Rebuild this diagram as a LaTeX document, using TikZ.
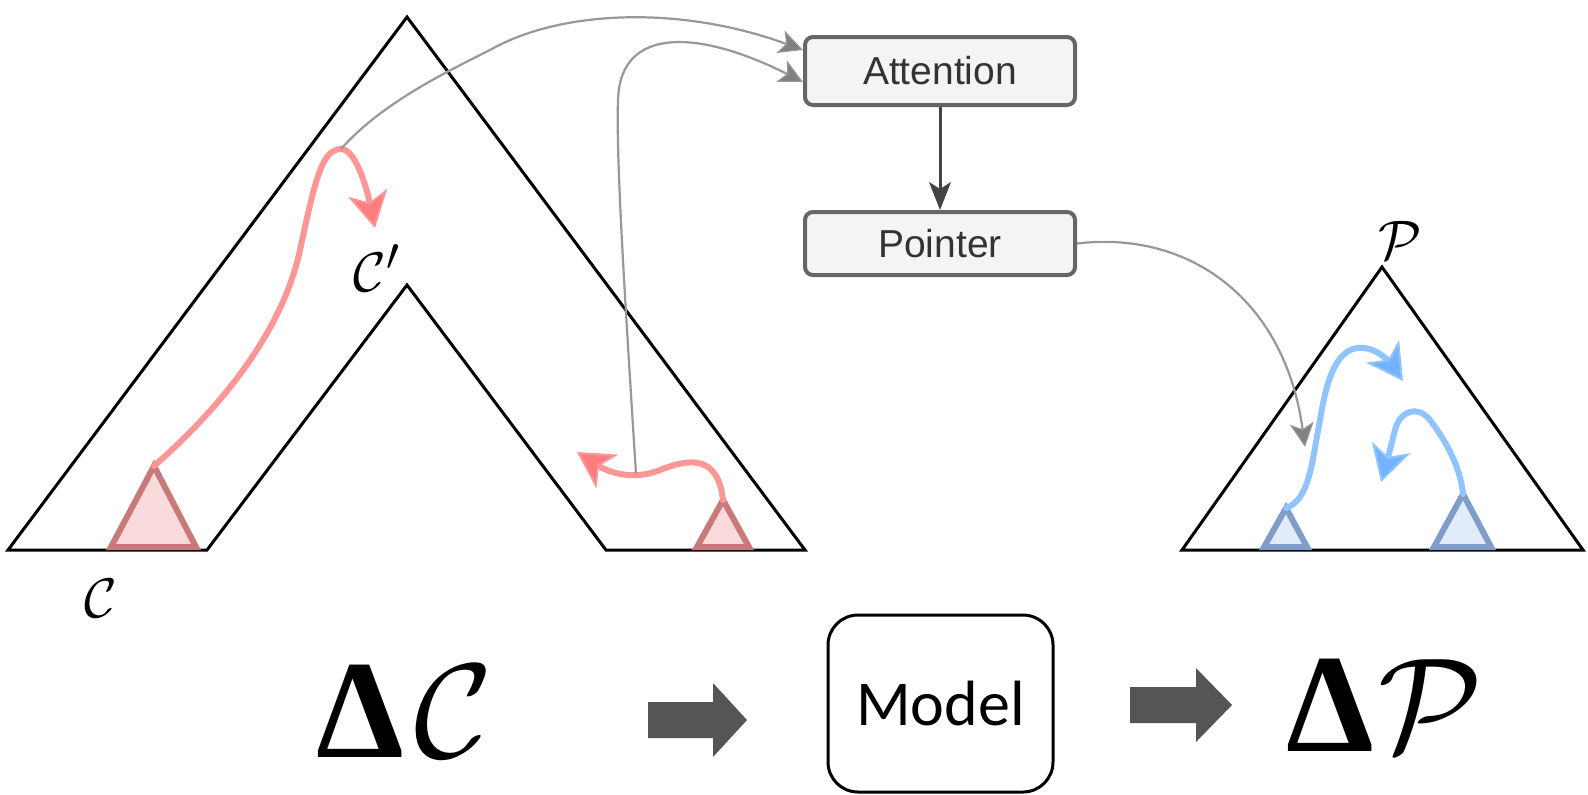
\documentclass[tikz,border=0pt]{standalone}
\usepackage{graphicx}
\usepackage{fontspec}
\newfontfamily\arialf{Liberation Sans}
\newfontfamily\calibf{Carlito}
\newfontfamily\timesf{Liberation Serif}
\usetikzlibrary{arrows.meta,calc}
\definecolor{pinkln}{RGB}{255,150,150}
\definecolor{pinkhd}{RGB}{255,125,125}
\definecolor{pinkst}{RGB}{200,122,122}
\definecolor{pinkfl}{RGB}{248,218,218}
\definecolor{blueln}{RGB}{145,195,255}
\definecolor{bluehd}{RGB}{115,178,255}
\definecolor{bluest}{RGB}{128,156,200}
\definecolor{bluefl}{RGB}{225,235,250}
\definecolor{grayln}{RGB}{152,152,152}
\definecolor{grayhd}{RGB}{128,128,128}
\definecolor{boxst}{RGB}{102,102,102}
\definecolor{boxfl}{RGB}{244,244,244}
\definecolor{boxtx}{RGB}{51,51,51}
\definecolor{blkarr}{RGB}{85,85,85}
\definecolor{darkln}{RGB}{68,68,68}
\newcommand{\bigdelta}{{\timesf\bfseries\fontsize{70}{72}\selectfont Δ}}
\begin{document}
\begin{tikzpicture}[x=0.5pt,y=-0.5pt,
  tree/.style={line width=1.5pt, draw=black, line join=miter},
  pinktri/.style={line width=3pt, draw=pinkst, fill=pinkfl, line join=miter},
  bluetri/.style={line width=3pt, draw=bluest, fill=bluefl, line join=miter},
  pinkarr/.style={line width=3pt, draw=pinkln, line cap=round,
    -{Stealth[length=18pt,width=20pt,inset=5pt,line width=1pt,fill=pinkhd]}},
  bluearr/.style={line width=3pt, draw=blueln, line cap=round,
    -{Stealth[length=18pt,width=20pt,inset=5pt,line width=1pt,fill=bluehd]}},
  grayarr/.style={line width=1.1pt, draw=grayln,
    -{Stealth[length=12pt,width=12pt,inset=3pt,line width=0.6pt,fill=grayhd]}},
  darkarr/.style={line width=1.5pt, draw=darkln,
    -{Stealth[length=14pt,width=11pt,inset=3.5pt,line width=0.6pt,fill=darkln]}},
  procbox/.style={draw=boxst, fill=boxfl, line width=2pt, rounded corners=4pt,
    minimum width=135pt, text=boxtx, font=\arialf\fontsize{19.5}{22}\selectfont},
  modelbox/.style={draw=black, line width=1.5pt, rounded corners=15pt,
    minimum width=112.5pt, minimum height=88.5pt, font=\calibf\fontsize{32}{36}\selectfont},
  lbl/.style={font=\Huge},
  biglbl/.style={anchor=base, inner sep=0pt},
  blockarr/.style={fill=blkarr}
]
\fill[white] (0,0) rectangle (1588,794);
\useasboundingbox (0,0) rectangle (1588,794);

% code tree with notch
\draw[tree] (8,550) -- (407,17) -- (805,550) -- (606,550) -- (407,285) -- (207,550) -- cycle;
% pattern tree
\draw[tree] (1182,550) -- (1382,267) -- (1583,550) -- cycle;

% small subtrees
\coordinate (pa1) at (154,466);
\coordinate (pa2) at (723,500);
\coordinate (ba1) at (1286,508);
\coordinate (ba2) at (1463,494);
\draw[pinktri] (pa1) -- (196,547) -- (111,547) -- cycle;
\draw[pinktri] (pa2) -- (749,547) -- (697,547) -- cycle;
\draw[bluetri] (ba1) -- (1307,547) -- (1264,547) -- cycle;
\draw[bluetri] (ba2) -- (1491,547) -- (1434,547) -- cycle;

% labels
\node[lbl] (lc) at (101,598) {\scalebox{1.12}{$\mathcal{C}$}};
\node[lbl] (lcp) at (377,268) {\scalebox{1.12}{$\mathcal{C}'$}};
\node[lbl] (lp) at (1400,240) {\scalebox{1.12}{$\mathcal{P}$}};

% process boxes
\node[procbox, minimum height=34pt] (att) at (940,71) {Attention};
\node[procbox, minimum height=31.5pt] (ptr) at (940,243.5) {Pointer};
\draw[darkarr] (att.south) -- (ptr.north);

% pink edit arrows
\coordinate (pk1) at (341,149);
\coordinate (pt1) at (375,228);
\draw[pinkarr] (pa1) .. controls (235,395) and (285,320) .. (300,250)
  .. controls (315,180) and (322,149) .. (pk1)
  .. controls (355,149) and (366,185) .. (pt1);
\coordinate (pm2) at (636,474);
\coordinate (pt2) at (577,452);
\draw[pinkarr] (pa2) .. controls (718,455) and (690,458) .. (660,470)
  .. controls (630,482) and (605,470) .. (pt2);

% blue edit arrows
\coordinate (bt1) at (1403,381);
\coordinate (bt2) at (1381,482);
\draw[bluearr] (ba1) .. controls (1310,500) and (1312,460) .. (1320,420)
  .. controls (1328,370) and (1340,345) .. (1365,348)
  .. controls (1380,350) and (1392,365) .. (bt1);
\draw[bluearr] (ba2) .. controls (1460,465) and (1445,440) .. (1430,420)
  .. controls (1418,405) and (1400,410) .. (1395,430)
  .. controls (1390,450) and (1386,465) .. (bt2);

% gray attention arrows
\coordinate (ain1) at ([yshift=10.5pt]att.west);
\coordinate (ain2) at ([yshift=-5.5pt]att.west);
\draw[grayarr] (pk1) .. controls (380,105) and (440,75) .. (490,50)
  .. controls (560,10) and (680,5) .. (ain1);
\draw[grayarr] (pm2) .. controls (625,300) and (616,160) .. (618,100)
  .. controls (620,25) and (700,30) .. (ain2);
\coordinate (ptip) at (1305,447);
\draw[grayarr] (ptr.east) .. controls (1190,230) and (1285,300) .. (ptip);

% bottom row
\node[biglbl] (dc) at (405,757) {\bigdelta\hspace{5pt}\scalebox{2.7}{\Huge$\mathcal{C}$}};
\node[modelbox] (model) at (940.5,703.5) {Model};
\node[biglbl] (dp) at (1385,751) {\bigdelta\hspace{2pt}\scalebox{2.7}{\Huge$\mathcal{P}$}};
\fill[blockarr] (648,702) -- (713,702) -- (713,683) -- (747,720) -- (713,757) -- (713,738) -- (648,738) -- cycle;
\fill[blockarr] (1130,687) -- (1196,687) -- (1196,668) -- (1232,705) -- (1196,742) -- (1196,723) -- (1130,723) -- cycle;
\end{tikzpicture}
\end{document}
